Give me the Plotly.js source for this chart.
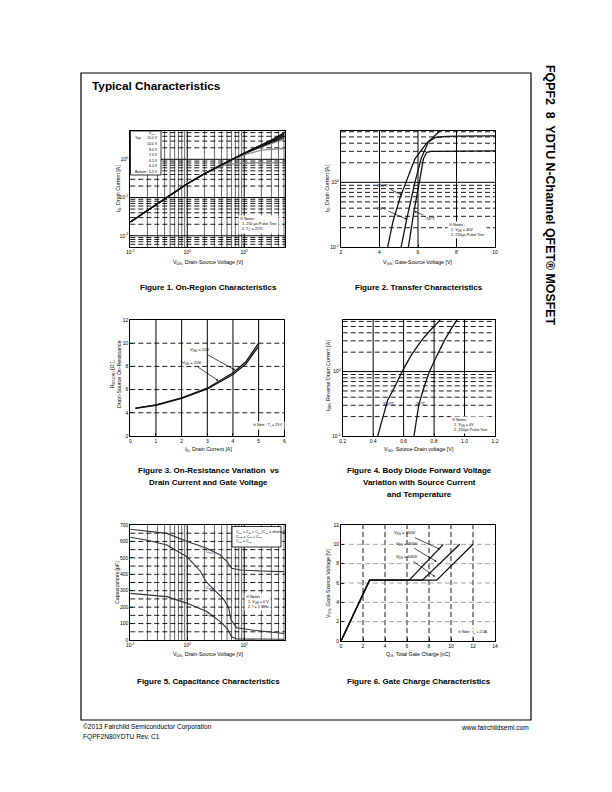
<!DOCTYPE html>
<html><head><meta charset="utf-8">
<script src="https://cdn.plot.ly/plotly-3.0.1.min.js"></script>
<style>body{margin:0;padding:0;background:#fff}#chart{width:612px;height:792px}</style>
</head><body><div id="chart"></div>
<script>
// ---------- Figure 1: On-Region Characteristics ----------
const f1_vds = [0.1,0.2,0.5,1,2,3,5,7,10,20,30,50];
const f1_id_15  = [0.023,0.046,0.11,0.23,0.42,0.58,0.86,1.10,1.45,2.40,3.20,4.90];
const f1_id_10  = [0.023,0.046,0.11,0.23,0.42,0.58,0.86,1.10,1.44,2.35,3.05,4.50];
const f1_id_8   = [0.023,0.046,0.11,0.23,0.42,0.58,0.86,1.10,1.43,2.30,2.90,4.10];
const f1_id_7   = [0.023,0.046,0.11,0.23,0.42,0.58,0.85,1.09,1.42,2.20,2.75,3.70];
const f1_id_65  = [0.023,0.046,0.11,0.23,0.42,0.58,0.85,1.08,1.40,2.10,2.60,3.30];
const f1_id_6   = [0.023,0.046,0.11,0.23,0.42,0.58,0.84,1.05,1.30,1.75,1.85,1.92];
const f1_id_55  = [0.023,0.046,0.11,0.23,0.42,0.56,0.74,0.78,0.80,0.81,0.81,0.82];
const f1_vgs_labels = ["15.0 V","10.0 V","8.0 V","7.0 V","6.5 V","6.0 V","5.5 V"];

// ---------- Figure 2: Transfer Characteristics ----------
const f2_vgs_150 = [4.42,4.70,5.06,5.36,5.84,6.45,7.20];
const f2_id_150  = [0.10,0.25,0.57,1.00,2.30,4.00,6.40];
const f2_vgs_25  = [5.12,5.41,5.84,6.16,6.54,6.90,7.50,8.00,10.0];
const f2_id_25   = [0.10,0.27,1.00,2.30,4.20,4.90,5.10,5.15,5.20];
const f2_vgs_m55 = [5.50,5.79,6.07,6.28,6.45,6.70,7.00,8.00,10.0];
const f2_id_m55  = [0.10,0.36,1.00,2.30,2.90,3.00,3.00,3.02,3.05];

// ---------- Figure 3: On-Resistance ----------
const f3_id      = [0.2,1,2,3,4,4.5,5];
const f3_rds_10  = [4.40,4.68,5.28,6.12,7.45,8.40,10.0];
const f3_rds_20  = [4.38,4.65,5.24,6.05,7.30,8.20,9.75];

// ---------- Figure 4: Body Diode ----------
const f4_vsd_150 = [0.43,0.47,0.495,0.544,0.59,0.65,0.72,0.78,0.84];
const f4_idr_150 = [0.10,0.22,0.36,0.59,1.00,1.80,3.10,4.50,6.30];
const f4_vsd_25  = [0.668,0.70,0.736,0.77,0.82,0.87,0.91,0.95];
const f4_idr_25  = [0.10,0.31,0.59,1.00,1.80,3.10,4.50,6.30];

// ---------- Figure 5: Capacitance ----------
const f5_v_ciss = [0.1,0.44,1,2.2,3.8,5,6,8.5,20,50];
const f5_ciss   = [674,649,599,558,517,477,436,426,420,416];
const f5_v_coss = [0.1,0.2,0.44,1,1.68,2.2,3.3,4.3,5.3,5.9,7.4,12.7,50];
const f5_coss   = [625,607,578,505,420,350,290,250,200,120,75,62,40];
const f5_v_crss = [0.1,0.44,1,2.2,3.8,5,6,7.4,50];
const f5_crss   = [284,264,223,173,112,71,20,6,5];

// ---------- Figure 6: Gate Charge ----------
const f6_qg_160 = [0,2.6,6.2,9.3];
const f6_vgs_160= [0,6.3,6.3,10];
const f6_qg_400 = [0,2.6,7.4,10.8];
const f6_vgs_400= [0,6.3,6.3,10];
const f6_qg_640 = [0,2.6,8.7,12.0];
const f6_vgs_640= [0,6.3,6.3,10];

// ---------- layout helpers ----------
const W=612, H=792, FONT='Liberation Sans, Arial, sans-serif';
const fx = p => p/W, fy = p => 1 - p/H;
const L10 = Math.log10;
function ax(dom, range, extra){
  return Object.assign({domain:dom, range:range, showline:true, mirror:true, linecolor:'#000', linewidth:1,
    ticks:'inside', ticklen:3, tickcolor:'#000', tickwidth:0.8, showgrid:false, zeroline:false,
    tickfont:{size:5, family:FONT, color:'#000'}, fixedrange:true}, extra||{});
}
const sup = ['10<sup>-2</sup>','10<sup>-1</sup>','10<sup>0</sup>','10<sup>1</sup>'];
const shapes=[], ann=[];
// shapes on log axes take data values in this Plotly version
function vline(n, v, style){ shapes.push({type:'line', xref:'x'+n, yref:'y'+n+' domain', x0:v, x1:v, y0:0, y1:1, layer:'below', line:style}); }
function hline(n, v, style){ shapes.push({type:'line', yref:'y'+n, xref:'x'+n+' domain', y0:v, y1:v, x0:0, x1:1, layer:'below', line:style}); }
const SOLID={color:'#000', width:1}, THIN={color:'#000', width:0.6}, DASH={color:'#000', width:0.9, dash:'5px,3px'}, GDASH={color:'#999', width:0.9, dash:'5px,3px'};
function logMinors(decades, lo, hi){ const o=[]; decades.forEach(d=>{for(let k=2;k<=9;k++){const v=d*k; if(v>lo*1.001 && v<hi*0.999) o.push(v);}}); return o; }

// Grid 1
[1,10].forEach(v=>vline('',v,SOLID));
logMinors([0.1,1,10],0.1,52).forEach(v=>vline('',v,THIN));
[0.01,0.1,1].forEach(v=>hline('',v,SOLID));
logMinors([0.001,0.01,0.1,1],0.005,5.5).forEach(v=>hline('',v,DASH));
// Grid 2
[4,6,8].forEach(v=>vline(2,v,SOLID));
hline(2,1,SOLID);
logMinors([0.1,1],0.1,6.2).forEach(v=>hline(2,v,DASH));
// Grid 3
[1,2,3,4,5].forEach(v=>vline(3,v,SOLID));
[4,6,8,10].forEach(v=>hline(3,v,DASH));
// Grid 4
[0.4,0.6,0.8,1.0].forEach(v=>vline(4,v,SOLID));
hline(4,1,SOLID);
logMinors([0.1,1],0.1,6.3).forEach(v=>hline(4,v,DASH));
// Grid 5
[1,10].forEach(v=>vline(5,v,SOLID));
logMinors([0.1,1,10],0.1,52).forEach(v=>vline(5,v,THIN));
for(let v=50; v<700; v+=50) hline(5,v,DASH);
// Grid 6
for(let v=2; v<=12; v+=2) vline(6,v,DASH);
for(let v=2; v<=10; v+=2) hline(6,v,GDASH);

// legend box fig1
shapes.push({type:'rect', xref:'paper', yref:'paper', x0:fx(130.5), x1:fx(161), y0:fy(175), y1:fy(131), fillcolor:'#fff', line:{color:'#000', width:0.8}, layer:'above'});
// legend box fig5
shapes.push({type:'rect', xref:'paper', yref:'paper', x0:fx(232), x1:fx(281), y0:fy(547), y1:fy(526.5), fillcolor:'#fff', line:{color:'#000', width:0.8}, layer:'above'});
// page frame
shapes.push({type:'rect', xref:'paper', yref:'paper', x0:fx(81), x1:fx(531), y0:fy(720), y1:fy(73), line:{color:'#000', width:1.2}, layer:'above'});

function t(x,y,text,size,o){ ann.push(Object.assign({xref:'paper', yref:'paper', x:fx(x), y:fy(y), text:text, showarrow:false,
  font:{size:size, family:FONT, color:'#000'}, xanchor:'center', yanchor:'middle'}, o||{})); }
function arrow(n,x,y,axp,ayp,text,size){ ann.push({xref:'x'+n, yref:'y'+n, x:x, y:y, ax:axp, ay:ayp, text:text, showarrow:true,
  arrowhead:2, arrowsize:0.6, arrowwidth:0.7, arrowcolor:'#000', standoff:0, font:{size:size, family:FONT, color:'#000'}}); }

// Page texts
t(90,86,'<b>Typical Characteristics</b>',11.8,{xanchor:'left'});
t(550,195,'<b>FQPF2  8  YDTU N-Channel QFET® MOSFET</b>',12.4,{textangle:90});
t(81,727,'©2013 Fairchild Semiconductor Corporation',6.6,{xanchor:'left'});
t(81,737,'FQPF2N80YDTU Rev. C1',6.6,{xanchor:'left'});
t(531,727,'www.fairchildsemi.com',6.6,{xanchor:'right'});
// Captions
const CF=8;
t(208,287,'<b>Figure 1. On-Region Characteristics</b>',CF);
t(419,287,'<b>Figure 2. Transfer Characteristics</b>',CF);
t(208,470,'<b>Figure 3. On-Resistance Variation  vs</b>',CF);
t(208,482,'<b>Drain Current and Gate Voltage</b>',CF);
t(419,470,'<b>Figure 4. Body Diode Forward Voltage</b>',CF);
t(419,482,'<b>Variation with Source Current</b>',CF);
t(419,494,'<b>and Temperature</b>',CF);
t(208,681,'<b>Figure 5. Capacitance Characteristics</b>',CF);
t(419,681,'<b>Figure 6. Gate Charge Characteristics</b>',CF);
// Axis titles
const AT=5.3;
t(208,262,'V<sub>DS</sub>, Drain-Source Voltage [V]',AT);
t(118,189,'I<sub>D</sub>, Drain Current [A]',AT,{textangle:-90});
t(418,262,'V<sub>GS</sub>, Gate-Source Voltage [V]',AT);
t(327,189,'I<sub>D</sub>, Drain Current [A]',AT,{textangle:-90});
t(208,449,'I<sub>D</sub>, Drain Current [A]',AT);
t(115,374,'R<sub>DS(ON)</sub> [Ω ],<br>Drain-Source On-Resistance',AT,{textangle:-90});
t(419,449,'V<sub>SD</sub>, Source-Drain voltage [V]',AT);
t(329,376,'I<sub>DR</sub>, Reverse Drain Current [A]',AT,{textangle:-90});
t(208,654,'V<sub>DS</sub>, Drain-Source Voltage [V]',AT);
t(117,582,'Capacitances [pF]',AT,{textangle:-90});
t(418,654,'Q<sub>G</sub>, Total Gate Charge [nC]',AT);
t(328,583,'V<sub>GS</sub>, Gate-Source Voltage [V]',AT,{textangle:-90});

// Fig1 legend text
const LS=3.5;
t(157,133.5,'V<sub>GS</sub>',LS,{xanchor:'right'});
t(132.5,138.5,'Top :',LS,{xanchor:'left'});
t(132.5,172,'Bottom :',LS,{xanchor:'left'});
f1_vgs_labels.forEach((s,i)=>t(159.5,138.5+i*5.58,s,LS,{xanchor:'right'}));
// Fig1 notes
t(238,224.5,'※ Notes :<br>  1. 250 μs Pulse Test<br>  2. T<sub>C</sub> = 25℃',3.8,{xanchor:'left', align:'left', bgcolor:'#fff'});
// Fig2 notes & labels
t(447,230,'※ Notes :<br>  1. V<sub>DS</sub> = 40V<br>  2. 250μs Pulse Test',3.8,{xanchor:'left', align:'left', bgcolor:'#fff'});
arrow(2,5.17,L10(0.64),-19,-9,'150℃',4.2);
arrow(2,5.43,L10(0.27),-25,-11,'25℃',4.2);
arrow(2,5.81,L10(0.36),16,7,'-55℃',4.2);
// Fig3
arrow(3,4.08,7.69,-36,-20,'V<sub>GS</sub> = 10V',4.2);
arrow(3,3.43,6.77,-27,-18,'V<sub>GS</sub> = 20V',4.2);
t(268,425,'※ Note : T<sub>J</sub> = 25℃',3.6,{bgcolor:'#fff'});
// Fig4
t(389,403,'150℃',4.2);
t(421,403,'25℃',4.2);
t(450,425,'※ Notes :<br>  1. V<sub>GS</sub> = 0V<br>  2. 250μs Pulse Test',3.8,{xanchor:'left', align:'left', bgcolor:'#fff'});
// Fig5
t(234,536.5,'C<sub>iss</sub> = C<sub>gs</sub> + C<sub>gd</sub> (C<sub>ds</sub> = shorted)<br>C<sub>oss</sub> = C<sub>ds</sub> + C<sub>gd</sub><br>C<sub>rss</sub> = C<sub>gd</sub>',3.6,{xanchor:'left', align:'left'});
t(244,601.5,'※ Notes :<br>  1. V<sub>GS</sub> = 0 V<br>  2. f = 1 MHz',3.8,{xanchor:'left', align:'left', bgcolor:'#fff'});
t(209,552,'C<sub>iss</sub>',4.4);
t(210,588,'C<sub>oss</sub>',4.4);
t(210,615,'C<sub>rss</sub>',4.4);
// Fig6
arrow(6,9.0,9.49,-35,-16,'V<sub>DS</sub> = 160V',4.2);
arrow(6,8.7,8.2,-30,-18,'V<sub>DS</sub> = 400V',4.2);
arrow(6,8.55,6.65,-28,-20,'V<sub>DS</sub> = 640V',4.2);
t(473,632,'※ Note : I<sub>D</sub> = 2.0A',3.6,{bgcolor:'#fff'});

// ---------- traces ----------
const BLK={color:'#111', width:1.3}, GRY={color:'#8a8a8a', width:1.3};
function tr(x,y,xa,ya,line){ return {x:x, y:y, xaxis:xa, yaxis:ya, mode:'lines', line:line, hoverinfo:'skip', showlegend:false}; }
const data=[
  tr(f1_vds,f1_id_55,'x','y',GRY), tr(f1_vds,f1_id_6,'x','y',GRY), tr(f1_vds,f1_id_65,'x','y',GRY),
  tr(f1_vds,f1_id_7,'x','y',BLK), tr(f1_vds,f1_id_8,'x','y',BLK), tr(f1_vds,f1_id_10,'x','y',BLK), tr(f1_vds,f1_id_15,'x','y',BLK),
  tr(f2_vgs_m55,f2_id_m55,'x2','y2',BLK), tr(f2_vgs_25,f2_id_25,'x2','y2',BLK), tr(f2_vgs_150,f2_id_150,'x2','y2',BLK),
  tr(f3_id,f3_rds_20,'x3','y3',BLK), tr(f3_id,f3_rds_10,'x3','y3',BLK),
  tr(f4_vsd_150,f4_idr_150,'x4','y4',BLK), tr(f4_vsd_25,f4_idr_25,'x4','y4',BLK),
  tr(f5_v_ciss,f5_ciss,'x5','y5',{color:'#333',width:1.1}), tr(f5_v_coss,f5_coss,'x5','y5',{color:'#333',width:1.1}), tr(f5_v_crss,f5_crss,'x5','y5',{color:'#333',width:1.1}),
  tr(f6_qg_640,f6_vgs_640,'x6','y6',BLK), tr(f6_qg_400,f6_vgs_400,'x6','y6',BLK), tr(f6_qg_160,f6_vgs_160,'x6','y6',BLK)
];

const logX = {type:'log', tickmode:'array', tickvals:[0.1,1,10], ticktext:[sup[1],sup[2],sup[3]]};
const layout={
  width:W, height:H, margin:{l:0,r:0,t:0,b:0}, paper_bgcolor:'#fff', plot_bgcolor:'#fff', showlegend:false,
  font:{family:FONT, color:'#000'},
  xaxis: ax([fx(130.3),fx(285)],[-1,L10(52)],Object.assign({anchor:'y'},logX)),
  yaxis: ax([fy(247.3),fy(131)],[L10(0.005),L10(5.5)],{anchor:'x', type:'log', tickmode:'array', tickvals:[0.01,0.1,1], ticktext:[sup[0],sup[1],sup[2]]}),
  xaxis2: ax([fx(341),fx(495)],[2,10],{anchor:'y2', dtick:2}),
  yaxis2: ax([fy(247.3),fy(131)],[-1,0.79],{anchor:'x2', type:'log', tickmode:'array', tickvals:[0.1,1], ticktext:[sup[1],sup[2]]}),
  xaxis3: ax([fx(130.3),fx(284.3)],[0,6],{anchor:'y3', dtick:1}),
  yaxis3: ax([fy(436),fy(320)],[2,12],{anchor:'x3', dtick:2}),
  xaxis4: ax([fx(342.7),fx(495)],[0.2,1.2],{anchor:'y4', dtick:0.2, tickformat:'.1f'}),
  yaxis4: ax([fy(436),fy(320)],[-1,0.80],{anchor:'x4', type:'log', tickmode:'array', tickvals:[0.1,1], ticktext:[sup[1],sup[2]]}),
  xaxis5: ax([fx(130.3),fx(285)],[-1,L10(52)],Object.assign({anchor:'y5'},logX)),
  yaxis5: ax([fy(640),fy(525)],[0,700],{anchor:'x5', dtick:100}),
  xaxis6: ax([fx(341),fx(495)],[0,14],{anchor:'y6', dtick:2}),
  yaxis6: ax([fy(641),fy(525)],[0,12],{anchor:'x6', dtick:2}),
  shapes:shapes, annotations:ann
};
Plotly.newPlot('chart', data, layout, {staticPlot:true, displayModeBar:false});
</script></body></html>
